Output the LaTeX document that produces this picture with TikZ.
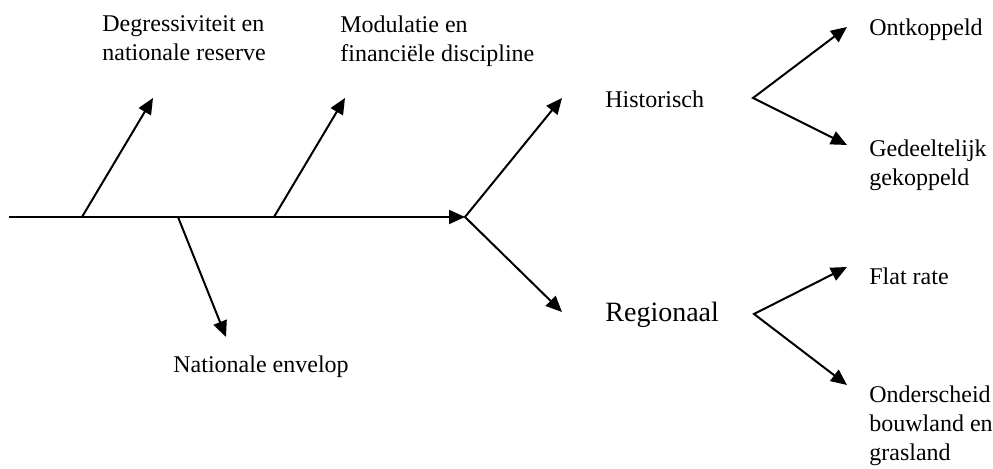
\documentclass[tikz,border=0pt]{standalone}
\usepackage{fontspec}
\setmainfont{Liberation Serif}
\usetikzlibrary{arrows.meta}
\tikzset{
	bone/.style={line width=1pt, -{Triangle[length=8pt,width=7pt]}},
	fork/.style={line width=1pt, line join=miter, {Triangle[length=8pt,width=7pt]}-{Triangle[length=8pt,width=7pt]}},
	lbl/.style={anchor=north west, inner sep=0pt, align=left, font=\fontsize{12}{14.5}\selectfont},
}

\begin{document}
\begin{tikzpicture}[x=0.5pt,y=-0.5pt]
	%%%%% START %%%%%
	\useasboundingbox (0,0) rectangle (993,469);

	% spine
	\coordinate (tail) at (9,217);
	\coordinate (head) at (465,217);
	\draw[bone] (tail) -- (head);

	% side bones
	\coordinate (rootA) at (82,217);
	\coordinate (tipA) at (153,98);
	\coordinate (rootB) at (178,217);
	\coordinate (tipB) at (226,337);
	\coordinate (rootC) at (274,217);
	\coordinate (tipC) at (345,98);
	\draw[bone] (rootA) -- (tipA);
	\draw[bone] (rootB) -- (tipB);
	\draw[bone] (rootC) -- (tipC);

	\node[lbl] (degr) at (102,15) {Degressiviteit en\\nationale reserve};
	\node[lbl] (modu) at (340,15) {Modulatie en\\financiële discipline};
	\node[lbl] (nati) at (173,355) {Nationale envelop};

	% head forks
	\coordinate (histIn) at (562,98);
	\coordinate (regiIn) at (562,312);
	\draw[fork] (histIn) -- (head) -- (regiIn);

	\node[lbl] (hist) at (605,90) {Historisch};
	\node[lbl, font=\fontsize{14}{16}\selectfont] (regi) at (605,302) {Regionaal};

	\coordinate (histV) at (753,98);
	\coordinate (ontkIn) at (847,27);
	\coordinate (gedeIn) at (847,145);
	\draw[fork] (ontkIn) -- (histV) -- (gedeIn);

	\coordinate (regiV) at (754,314);
	\coordinate (flatIn) at (847,267);
	\coordinate (ondeIn) at (847,385);
	\draw[fork] (flatIn) -- (regiV) -- (ondeIn);

	\node[lbl] (ontk) at (869,18) {Ontkoppeld};
	\node[lbl] (gede) at (869,139) {Gedeeltelijk\\gekoppeld};
	\node[lbl] (flat) at (869,267) {Flat rate};
	\node[lbl] (onde) at (869,385) {Onderscheid\\bouwland en\\grasland};

	%%%%% END %%%%%
\end{tikzpicture}
\end{document}
